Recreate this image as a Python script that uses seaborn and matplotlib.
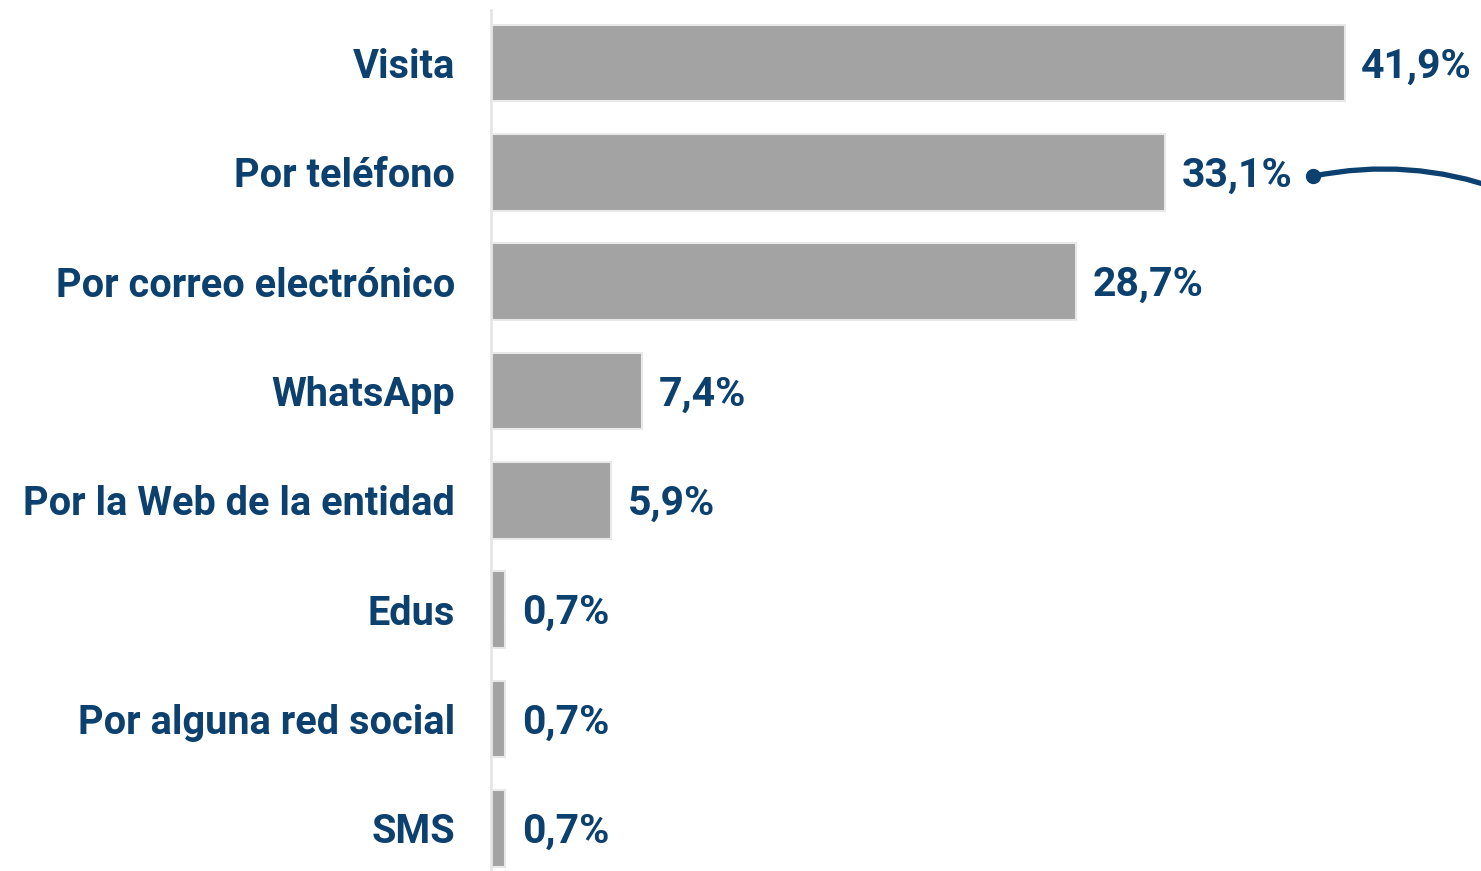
import seaborn as sns
import matplotlib.pyplot as plt
import pandas as pd

# --- data ---
categories = ["Visita", "Por teléfono", "Por correo electrónico", "WhatsApp",
              "Por la Web de la entidad", "Edus", "Por alguna red social", "SMS"]
values = [41.9, 33.1, 28.7, 7.4, 5.9, 0.7, 0.7, 0.7]
value_labels = ["41,9%", "33,1%", "28,7%", "7,4%", "5,9%", "0,7%", "0,7%", "0,7%"]

df = pd.DataFrame({"canal": categories, "pct": values})

navy = "#0b406f"
sns.set_style("white")
plt.rcParams['font.family'] = ['Roboto', 'DejaVu Sans']

fig = plt.figure(figsize=(14.81, 8.71), dpi=100)
ax = fig.add_axes([491 / 1481, 0.0, 1 - 491 / 1481, 1 - 10 / 871])

sns.barplot(data=df, x="pct", y="canal", color="#a3a3a3", saturation=1,
            width=0.7, edgecolor="#e8e8e8", linewidth=1.5, ax=ax)

ax.set_xlim(0, 48.6)
ax.set_ylim(7.39, -0.485)
ax.set_xlabel("")
ax.set_ylabel("")
ax.set_xticks([])
ax.tick_params(axis="y", length=0, pad=26)
for lab in ax.get_yticklabels():
    lab.set_fontsize(28.6)
    lab.set_fontweight("bold")
    lab.set_color(navy)

for s in ["top", "right", "bottom"]:
    ax.spines[s].set_visible(False)
ax.spines["left"].set_color("#e6e6e6")
ax.spines["left"].set_linewidth(2)

# value labels
for i, (v, t) in enumerate(zip(values, value_labels)):
    ax.annotate(t, xy=(v, i), xytext=(12, -2.5), textcoords="offset points",
                va="center", ha="left", fontsize=29.5, fontweight="bold", color=navy)

# connector from the "Por teléfono" label off to the right
ax.annotate("", xy=(values[1] + 7.25, 1.035), xytext=(values[1] + 16.5, 1.16),
            xycoords="data", textcoords="data",
            arrowprops=dict(arrowstyle="-", color=navy, lw=3.8,
                            connectionstyle="arc3,rad=0.14",
                            shrinkA=0, shrinkB=0),
            annotation_clip=False)
ax.plot([values[1] + 7.25], [1.035], "o", color=navy, markersize=10, clip_on=False)

plt.savefig("out.png", dpi=100)
